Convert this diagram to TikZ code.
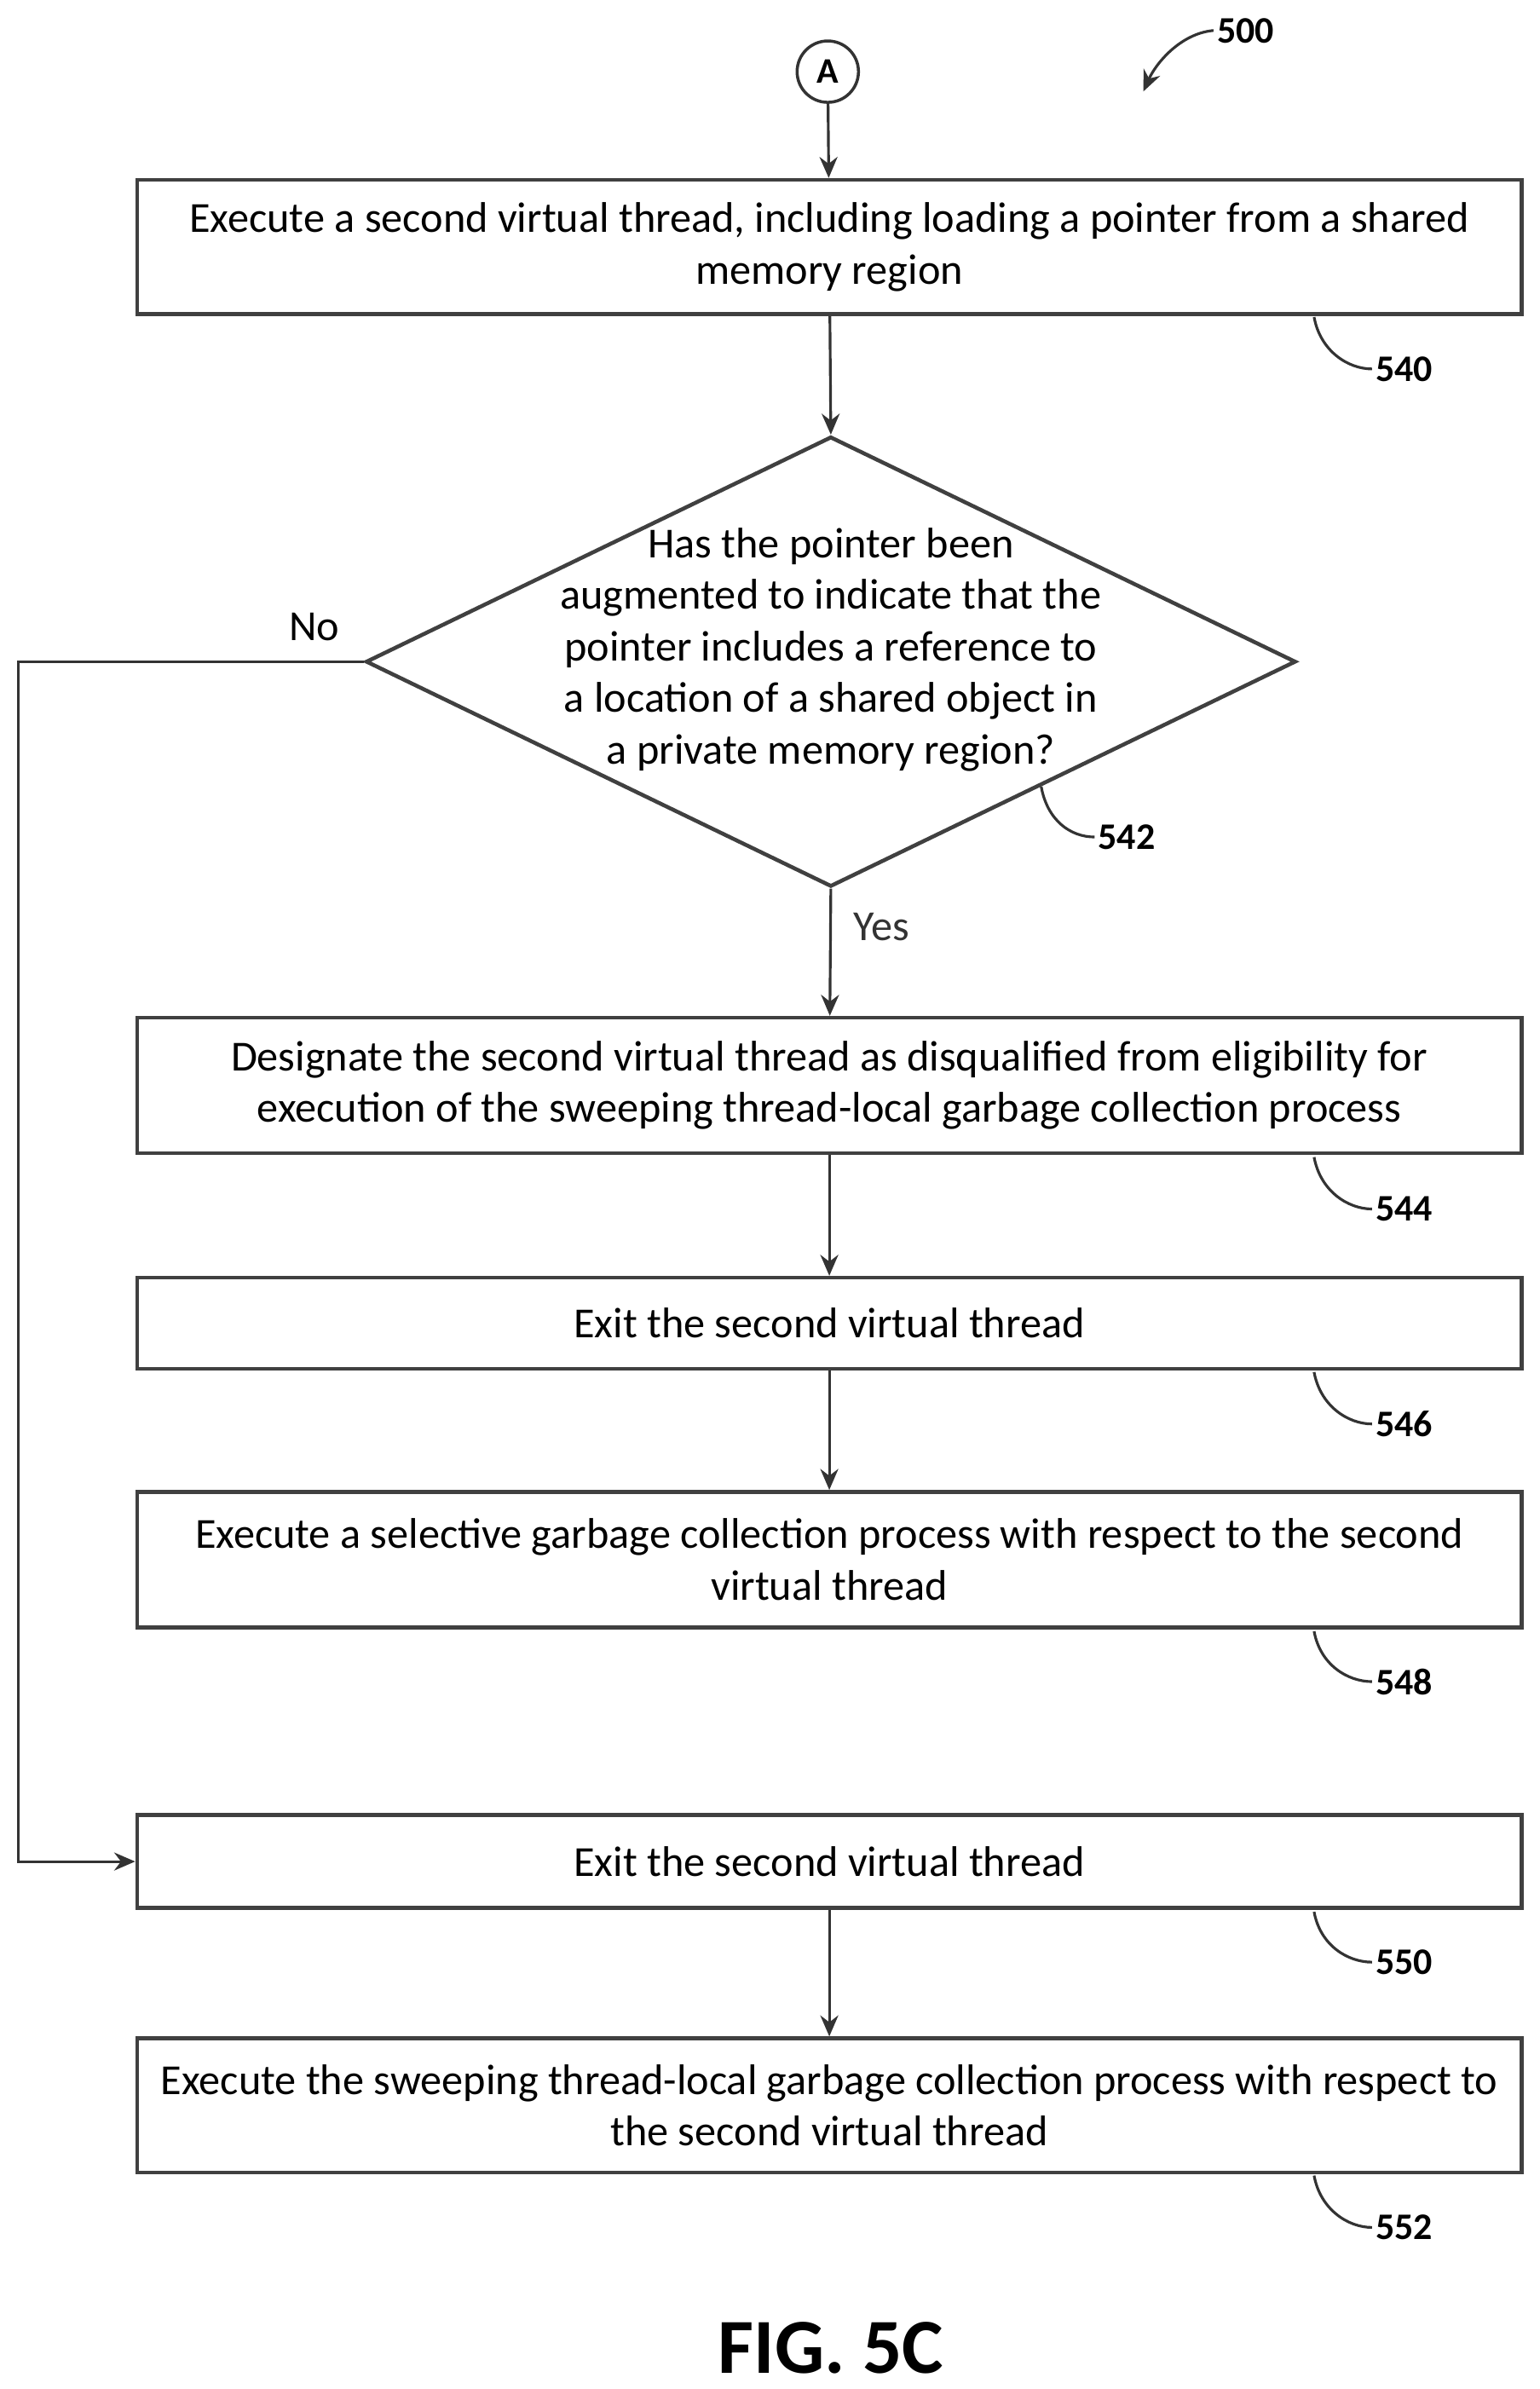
\documentclass[tikz,border=0pt]{standalone}
\usepackage{fontspec}
\setmainfont{Carlito}
\usetikzlibrary{shapes.geometric,arrows.meta}
\begin{document}
\begin{tikzpicture}[x=0.01789cm,y=-0.01789cm,
  box/.style={draw=black!75,line width=1.3pt,minimum width=16.24cm,inner sep=0pt,align=center,font=\fontsize{14.3pt}{17.2pt}\selectfont},
  arr/.style={-{Stealth[length=7pt,width=6pt]},line width=0.9pt,black!80},
  lbl/.style={font=\bfseries\fontsize{12.5pt}{14pt}\selectfont,inner sep=1pt,anchor=west},
  lead/.style={line width=0.9pt,black!80},
  txt/.style={font=\fontsize{14.3pt}{17.2pt}\selectfont}]
\useasboundingbox (0,0) rectangle (1010,1567);
\node[draw=black!80,circle,line width=1pt,minimum size=0.72cm,inner sep=0pt,font=\bfseries\fontsize{12pt}{14pt}\selectfont] (A) at (543,47) {A};
\node[box,minimum height=1.574cm] (b540) at (544,162) {Execute a second virtual thread, including loading a pointer from a shared\\memory region};
\node[draw=black!75,line width=1.3pt,diamond,minimum width=10.91cm,minimum height=5.28cm,inner sep=0pt] (d542) at (545,434) {};
\node[txt,align=center] (d542t) at (545,426) {Has the pointer been\\augmented to indicate that the\\pointer includes a reference to\\a location of a shared object in\\a private memory region?};
\node[box,minimum height=1.59cm] (b544) at (544,712) {Designate the second virtual thread as disqualified from eligibility for\\execution of the sweeping thread-local garbage collection process};
\node[box,minimum height=1.07cm] (b546) at (544,868) {Exit the second virtual thread};
\node[box,minimum height=1.59cm] (b548) at (544,1023) {Execute a selective garbage collection process with respect to the second\\virtual thread};
\node[box,minimum height=1.09cm] (b550) at (544,1221) {Exit the second virtual thread};
\node[box,minimum height=1.574cm] (b552) at (544,1381) {Execute the sweeping thread-local garbage collection process with respect to\\the second virtual thread};
\draw[arr] (A) -- (b540);
\draw[arr] (b540) -- (d542.north);
\draw[arr] (d542.south) -- node[txt,right,pos=0.3,xshift=4pt]{Yes} (b544);
\draw[arr] (b544) -- (b546);
\draw[arr] (b546) -- (b548);
\draw[arr] (b550) -- (b552);
\coordinate (c1) at (12,434);
\coordinate (c2) at (12,1221);
\draw[arr] (d542.west) -- (c1) -- (c2) -- (b550.west);
\node[txt] (no) at (206,411) {No};
\node[lbl] (l540) at (900,242) {540};
\node[lbl] (l542) at (718,549) {542};
\node[lbl] (l544) at (900,793) {544};
\node[lbl] (l546) at (900,934) {546};
\node[lbl] (l548) at (900,1103) {548};
\node[lbl] (l550) at (900,1287) {550};
\node[lbl] (l552) at (900,1461) {552};
\node[lbl] (l500) at (796,20) {500};
\coordinate (s540) at (862,208);
\coordinate (s542) at (683,516);
\coordinate (s544) at (862,759);
\coordinate (s546) at (862,900);
\coordinate (s548) at (862,1070);
\coordinate (s550) at (862,1254);
\coordinate (s552) at (862,1427);
\foreach \n in {540,544,546,548,550,552}{
  \draw[lead] (s\n) .. controls +(4,22) and +(-16,0) .. (l\n.west);
}
\draw[lead] (s542) .. controls +(4,22) and +(-16,0) .. (l542.west);
\coordinate (e500) at (750,60);
\draw[-{Stealth[length=7pt,width=6pt]},line width=0.9pt,black!80] (l500.west) .. controls +(-22,2) and +(8,-18) .. (e500);
\node[font=\bfseries\fontsize{26pt}{30pt}\selectfont] (fig) at (545,1540) {FIG. 5C};
\end{tikzpicture}
\end{document}
